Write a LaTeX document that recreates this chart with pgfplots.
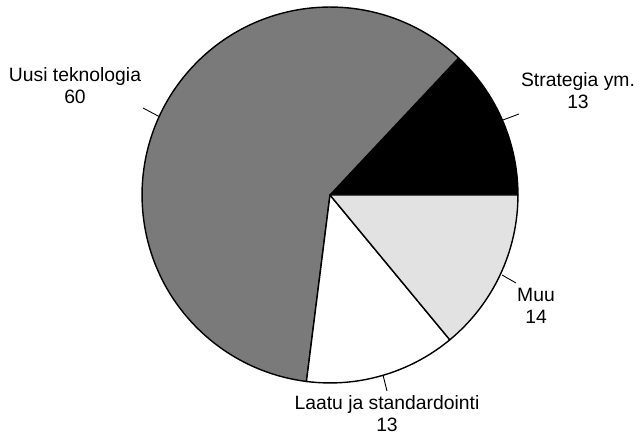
\documentclass[border=0pt]{standalone}
\usepackage{fontspec}
\setmainfont{Liberation Sans}
\usepackage{pgfplots}
\pgfplotsset{compat=1.18}
\definecolor{uusigray}{RGB}{122,122,122}
\definecolor{muugray}{RGB}{226,226,226}

\begin{document}
\begin{tikzpicture}
\begin{axis}[
    x=0.02cm, y=0.02cm,
    xmin=0, xmax=640, ymin=0, ymax=435,
    hide axis,
    clip=false,
]
% corners of the picture
\coordinate (BL) at (axis cs:0,0);
\coordinate (TR) at (axis cs:640,435);

% slices: value / fill colour, starting at 0 deg, counter-clockwise
\gdef\acc{0}
\foreach \val/\col in {13/black, 60/uusigray, 13/white, 14/muugray} {
    \pgfmathsetmacro{\sa}{\acc*3.6}
    \pgfmathsetmacro{\sb}{(\acc+\val)*3.6}
    \edef\slice{\noexpand\filldraw[fill=\col, draw=black, line width=0.8pt, line join=round]
        (axis cs:330,240) -- ++(\sa:3.76cm) arc[start angle=\sa, end angle=\sb, radius=3.76cm] -- cycle;}
    \slice
    \pgfmathsetmacro{\n}{\acc+\val}
    \xdef\acc{\n}
}

% leader lines
\draw[line width=0.5pt] (axis cs:143,327) -- (axis cs:160,318);
\draw[line width=0.5pt] (axis cs:503,315) -- (axis cs:519,321);
\draw[line width=0.5pt] (axis cs:502,160) -- (axis cs:516,152);
\draw[line width=0.5pt] (axis cs:383,60) -- (axis cs:387,44);

% labels
\tikzset{lbl/.style={font=\fontsize{11}{12.5}\selectfont, align=center, inner sep=0pt}}
\node[lbl] at (axis cs:75,349) {Uusi teknologia\\60};
\node[lbl] at (axis cs:578,344) {Strategia ym.\\13};
\node[lbl] at (axis cs:536,129) {Muu\\14};
\node[lbl] at (axis cs:387,21) {Laatu ja standardointi\\13};
\end{axis}
\pgfresetboundingbox
\useasboundingbox (BL) rectangle (TR);
\end{tikzpicture}
\end{document}
